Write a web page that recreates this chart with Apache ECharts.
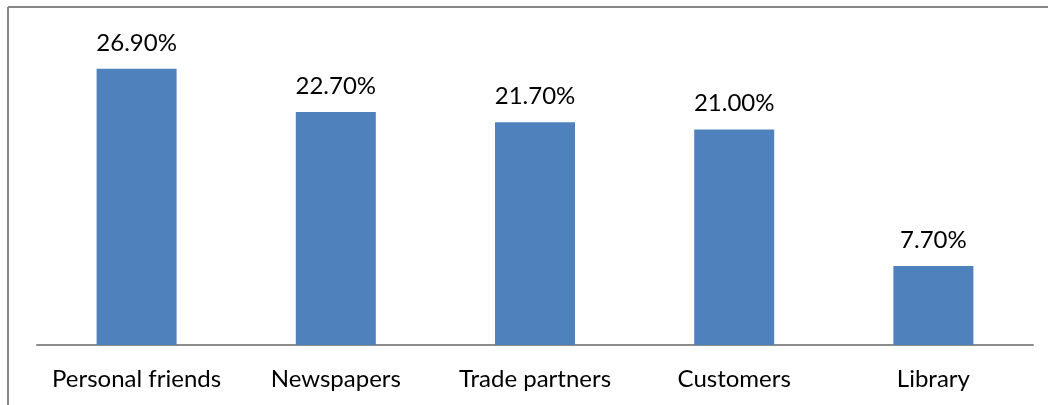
<!DOCTYPE html>
<html>
<head>
<meta charset="utf-8">
<script src="https://cdn.jsdelivr.net/npm/echarts@6/dist/echarts.min.js"></script>
<style>
  html, body { margin: 0; padding: 0; background: #fff; }
  #chart { width: 1048px; height: 405px; }
</style>
</head>
<body>
<div id="chart"></div>
<script>
const categories = ['Personal friends', 'Newspapers', 'Trade partners', 'Customers', 'Library']
const shares = [26.9, 22.7, 21.7, 21.0, 7.7]

const chart = echarts.init(document.getElementById('chart'))

chart.setOption({
  backgroundColor: '#fff',
  textStyle: { fontFamily: 'Lato' },
  graphic: [
    // frame: top and left edge
    { type: 'line', shape: { x1: 8, y1: 7, x2: 1048, y2: 7 }, style: { stroke: '#878787', lineWidth: 2 } },
    { type: 'line', shape: { x1: 8, y1: 7, x2: 8, y2: 405 }, style: { stroke: '#878787', lineWidth: 2 } },
  ],
  grid: { left: 37, right: 15, top: 37, bottom: 60 },
  xAxis: {
    type: 'category',
    data: categories,
    axisLine: { lineStyle: { color: '#8c8c8c', width: 2 } },
    axisTick: { show: false },
    axisLabel: { color: '#000', fontSize: 24, margin: 22, interval: 0 },
  },
  yAxis: {
    type: 'value',
    min: 0,
    max: 30,
    show: false,
    splitLine: { show: false },
  },
  series: [{
    type: 'bar',
    data: shares,
    barWidth: 80,
    itemStyle: { color: '#4f81bd' },
    label: {
      show: true,
      position: 'top',
      distance: 14,
      color: '#000',
      fontSize: 24,
      formatter: (p) => p.value.toFixed(2) + '%',
    },
  }],
})
</script>
</body>
</html>
